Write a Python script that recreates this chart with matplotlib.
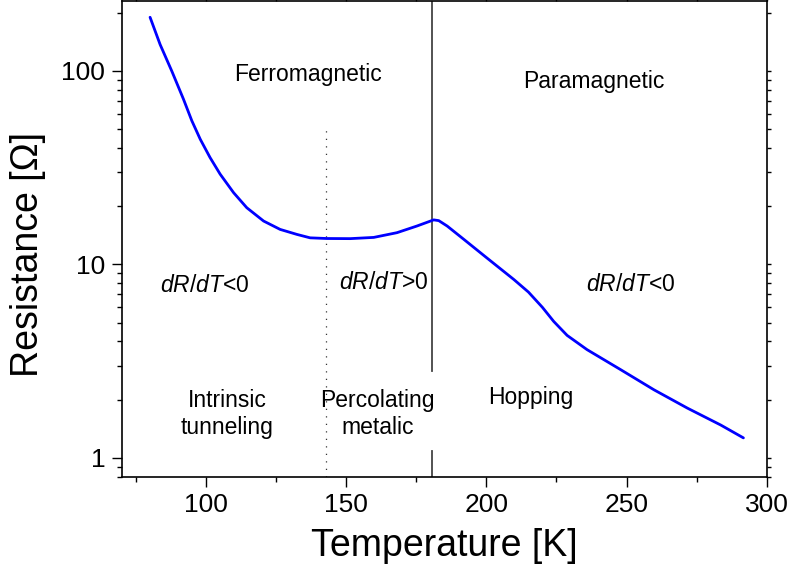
import matplotlib
matplotlib.use("Agg")
import matplotlib.pyplot as plt
from matplotlib.ticker import FixedLocator, LogLocator, NullFormatter, FuncFormatter, MultipleLocator

plt.rcParams['font.family'] = ['Liberation Sans', 'DejaVu Sans']
plt.rcParams['mathtext.fontset'] = 'custom'
plt.rcParams['mathtext.rm'] = 'Liberation Sans'
plt.rcParams['mathtext.it'] = 'Liberation Sans:italic'

# Data
temperature = [80.0, 83.6, 87.8, 91.9, 94.9, 97.9, 101.4, 105.0, 109.8, 114.5,
               120.5, 126.4, 132.4, 137.1, 143.1, 151.4, 159.8, 168.1, 175.2,
               181.2, 183.0, 186.0, 191.9, 200.2, 209.8, 215.0, 220.0, 224.0,
               228.8, 235.9, 247.9, 259.8, 271.7, 283.6, 291.7]
resistance = [189.5, 136.9, 99.5, 71.6, 55.3, 44.4, 35.7, 29.3, 23.5, 19.65,
              16.77, 15.18, 14.30, 13.73, 13.62, 13.6, 13.8, 14.6, 15.8,
              17.0, 16.85, 15.8, 13.5, 10.8, 8.36, 7.2, 6.0, 5.08,
              4.3, 3.63, 2.86, 2.25, 1.81, 1.48, 1.27]

t_dotted = 142.9
dotted_top = 49.7
t_curie = 180.6
solid_gap = [2.8, 1.09]

x_ticks = [100, 150, 200, 250, 300]
y_ticks = [1, 10, 100]

fig = plt.figure(figsize=(7.94, 5.82), dpi=100)
ax = fig.add_axes([0.1537, 0.1809, 0.8119, 0.8174])

ax.plot(temperature, resistance, color='#0000ff', lw=2.0, solid_capstyle='round',
        solid_joinstyle='round', zorder=3)

ax.set_yscale('log')
ax.set_xlim(70, 300)
ax.set_ylim(0.8, 230)

# vertical guide lines
ax.plot([t_dotted, t_dotted], [0.8, dotted_top], color='#333333', lw=0.9,
        linestyle=(0, (1, 5.0)), zorder=2)
ax.plot([t_curie, t_curie], [solid_gap[0], 230], color='#444444', lw=1.3, zorder=2)
ax.plot([t_curie, t_curie], [0.8, solid_gap[1]], color='#444444', lw=1.3, zorder=2)

# ticks
ax.xaxis.set_major_locator(FixedLocator(x_ticks))
ax.xaxis.set_minor_locator(MultipleLocator(25))
ax.yaxis.set_major_locator(FixedLocator(y_ticks))
ax.yaxis.set_minor_locator(LogLocator(base=10, subs=range(2, 10)))
ax.yaxis.set_minor_formatter(NullFormatter())
ax.yaxis.set_major_formatter(FuncFormatter(lambda v, p: f"{v:g}"))

ax.tick_params(which='major', direction='out', length=7, width=1.0, labelsize=19, pad=5)
ax.tick_params(which='minor', direction='out', length=3.5, width=1.0)
ax.tick_params(axis='x', which='both', top=True)
ax.tick_params(axis='y', which='both', right=True)
ax.tick_params(axis='x', which='both', labeltop=False)
for t in ax.xaxis.get_major_ticks() + ax.xaxis.get_minor_ticks():
    t.tick2line.set_markersize(3)
for t in ax.yaxis.get_major_ticks() + ax.yaxis.get_minor_ticks():
    t.tick2line.set_markersize(3)

for s in ax.spines.values():
    s.set_linewidth(1.2)

ax.set_xlabel('Temperature [K]', fontsize=27, labelpad=8)
ax.set_ylabel('Resistance [Ω]', fontsize=27)
ax.yaxis.set_label_coords(-0.118, 0.468)

fs = 16.5
ax.text(136.4, 89.1, 'Ferromagnetic', ha='center', va='baseline', fontsize=fs)
ax.text(238.2, 81.3, 'Paramagnetic', ha='center', va='baseline', fontsize=fs)
ax.text(99.4, 7.19, r'$\mathit{dR/dT}$<0', ha='center', va='baseline', fontsize=fs)
ax.text(163.5, 7.47, r'$\mathit{dR/dT}$>0', ha='center', va='baseline', fontsize=fs)
ax.text(251.4, 7.28, r'$\mathit{dR/dT}$<0', ha='center', va='baseline', fontsize=fs)
ax.text(107.5, 1.325, 'Intrinsic\ntunneling', ha='center', va='baseline', fontsize=fs,
        multialignment='center', linespacing=1.25)
ax.text(161.2, 1.325, 'Percolating\nmetalic', ha='center', va='baseline', fontsize=fs,
        multialignment='center', linespacing=1.25)
ax.text(215.8, 1.896, 'Hopping', ha='center', va='baseline', fontsize=fs)

fig.savefig('out.png', dpi=100)
